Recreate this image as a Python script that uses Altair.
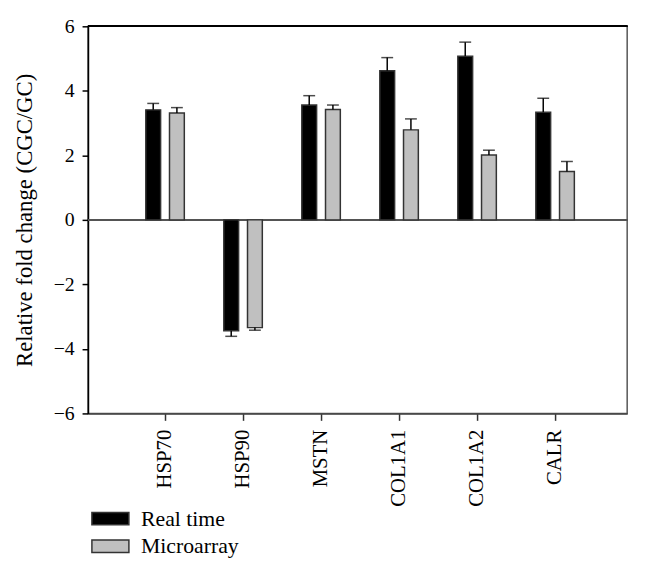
import altair as alt
import pandas as pd

genes = ["HSP70", "HSP90", "MSTN", "COL1A1", "COL1A2", "CALR"]
series = ["Real time", "Microarray"]
real_time = [3.41, -3.44, 3.56, 4.62, 5.07, 3.34]
real_time_err = [0.20, 0.17, 0.29, 0.41, 0.44, 0.43]
microarray = [3.31, -3.34, 3.42, 2.79, 2.01, 1.50]
microarray_err = [0.17, 0.08, 0.14, 0.34, 0.15, 0.31]

rows = []
for g, v, e in zip(genes, real_time, real_time_err):
    rows.append({"gene": g, "series": "Real time", "value": v,
                 "end": v + (e if v >= 0 else -e)})
for g, v, e in zip(genes, microarray, microarray_err):
    rows.append({"gene": g, "series": "Microarray", "value": v,
                 "end": v + (e if v >= 0 else -e)})
df = pd.DataFrame(rows)

FONT = "Liberation Serif"

x_enc = alt.X("gene:N", sort=genes, title=None,
              scale=alt.Scale(paddingInner=0, paddingOuter=0.456, align=0.535),
              axis=alt.Axis(labelAngle=-90, labelFontSize=21, labelFont=FONT,
                            labelColor="black", labelPadding=9, tickSize=7,
                            tickColor="#333", tickWidth=1.5, domainColor="#444",
                            domainWidth=1.5, labelAlign="right",
                            labelBaseline="middle"))
xoff = alt.XOffset("series:N", sort=series,
                   scale=alt.Scale(paddingInner=0.375, paddingOuter=0.833))
y_scale = alt.Scale(domain=[-6, 6], nice=False)

bars = alt.Chart(df).mark_bar(stroke="#333", strokeWidth=1.5).encode(
    x=x_enc,
    xOffset=xoff,
    y=alt.Y("value:Q", scale=y_scale,
            title="Relative fold change (CGC/GC)",
            axis=alt.Axis(values=[-6, -4, -2, 0, 2, 4, 6], grid=False,
                          labelFontSize=20, labelFont=FONT, labelColor="black",
                          titleFont=FONT, titleFontSize=23, titleFontWeight="normal",
                          titleColor="black", titlePadding=17, labelPadding=8,
                          tickSize=6, tickColor="black", tickWidth=1.5,
                          domainColor="black", domainWidth=1.5)),
    y2=alt.datum(0),
    fill=alt.Fill("series:N", sort=series,
                  scale=alt.Scale(domain=series, range=["#000000", "#c0c0c0"]),
                  legend=alt.Legend(title=None, orient="none", legendX=11.7,
                                    legendY=487.5, padding=0,
                                    symbolType="M-3,-1H3V1H-3Z", symbolSize=156,
                                    symbolStrokeColor="#333", symbolStrokeWidth=1.5,
                                    symbolOpacity=1,
                                    labelFont=FONT, labelFontSize=22,
                                    labelColor="black", labelOffset=20,
                                    rowPadding=6)),
)

err_rule = alt.Chart(df).mark_rule(color="black", strokeWidth=1.5).encode(
    x=alt.X("gene:N", sort=genes),
    xOffset=xoff,
    y=alt.Y("value:Q"),
    y2=alt.Y2("end:Q"),
)

err_cap = alt.Chart(df).mark_tick(color="black", thickness=1.5, size=12,
                                  orient="horizontal").encode(
    x=alt.X("gene:N", sort=genes),
    xOffset=xoff,
    y=alt.Y("end:Q"),
)

zero = alt.Chart(df).mark_rule(color="#555", strokeWidth=1.5).encode(
    y=alt.datum(0)
)
top = alt.Chart(df).mark_rule(color="black", strokeWidth=1.5).encode(
    y=alt.datum(6)
)

chart = alt.layer(zero, bars, err_rule, err_cap, top).properties(
    width=546, height=392,
    autosize=alt.AutoSizeParams(type="none"),
    padding={"left": 81, "top": 15, "right": 14, "bottom": 155},
).configure_view(stroke="#555", strokeWidth=1.5).configure_axis(
    labelFont=FONT
)

chart.save("out.html", embed_options={"renderer": "svg", "actions": False})
